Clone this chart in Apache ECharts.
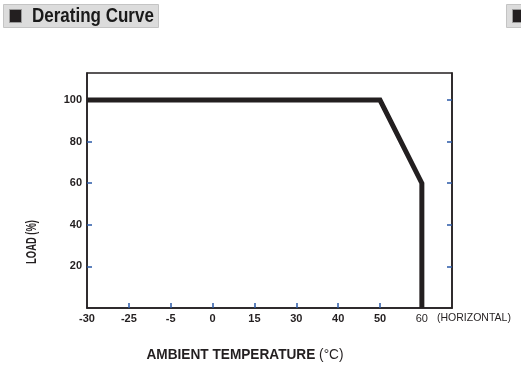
<!DOCTYPE html>
<html><head><meta charset="utf-8">
<script src="https://cdn.jsdelivr.net/npm/echarts@6/dist/echarts.min.js"></script>
<style>html,body{margin:0;padding:0;background:#fff}#c{width:521px;height:382px}</style>
</head><body><div id="c"></div>
<script>
const tickLabels = ['-30','-25','-5','0','15','30','40','50','60'];
const curveTemp = ['-30','50','60','60'];
const curveLoad = [100, 100, 60, 0];
const loadTicks = [20, 40, 60, 80, 100];

const chart = echarts.init(document.getElementById('c'));
const curveData = curveTemp.map((t, i) => [tickLabels.indexOf(t), curveLoad[i]]);
const tickBlue = '#2b5aa8';
const ink = '#231f20';
const NF = '"Liberation Sans", Arial';
chart.setOption({
  animation: false,
  grid: {left: 87, right: 69, top: 73, bottom: 74, show: true, borderColor: ink, borderWidth: 1.5},
  xAxis: [{
    type: 'value', min: 0, max: 8.72, interval: 1,
    axisLine: {show: true, lineStyle: {color: ink, width: 1.5}},
    axisTick: {show: true, inside: true, length: 5, lineStyle: {color: tickBlue, width: 1.5},
      customValues: tickLabels.map((_, i) => i).filter(i => i > 0)},
    splitLine: {show: false},
    axisLabel: {margin: 5, fontFamily: NF, fontSize: 11, fontWeight: 'bold', color: ink,
      showMaxLabel: false,
      formatter: v => {
        const i = Math.round(v);
        if (Math.abs(v - i) > 1e-6 || i >= tickLabels.length) return '';
        return i === tickLabels.length - 1 ? '{n|' + tickLabels[i] + '}' : tickLabels[i];
      },
      rich: {n: {fontFamily: NF, fontSize: 11, fontWeight: 'normal', color: ink}}
    }
  }],
  yAxis: [{
    type: 'value', min: 0, max: 113, interval: 20,
    axisLine: {show: true, lineStyle: {color: ink, width: 1.5}},
    axisTick: {show: true, inside: true, length: 5, lineStyle: {color: tickBlue, width: 1.5}, customValues: loadTicks},
    splitLine: {show: false},
    axisLabel: {margin: 5, fontFamily: NF, fontSize: 11, fontWeight: 'bold', color: ink,
      customValues: loadTicks, formatter: v => String(v)}
  }, {
    type: 'value', min: 0, max: 113, interval: 20, position: 'right',
    axisLine: {show: true, lineStyle: {color: ink, width: 1.5}},
    axisTick: {show: true, inside: true, length: 5, lineStyle: {color: tickBlue, width: 1.5}, customValues: loadTicks},
    splitLine: {show: false},
    axisLabel: {show: false}
  }],
  series: [{
    type: 'line', data: curveData, symbol: 'none',
    lineStyle: {color: ink, width: 5, join: 'miter'}
  }],
  graphic: [
    {type: 'rect', shape: {x: 3.5, y: 4.5, width: 155, height: 23}, style: {fill: '#dcdcdc', stroke: '#c4c4c4', lineWidth: 1}},
    {type: 'rect', shape: {x: 9.5, y: 9.5, width: 12, height: 13}, style: {fill: '#231f20', stroke: '#9a9a9a', lineWidth: 1}},
    {type: 'text', x: 32, y: 16, scaleX: 0.85,
      style: {text: 'Derating Curve', font: 'bold 20px ' + NF, fill: '#1a1a1a', align: 'left', verticalAlign: 'middle'}},
    {type: 'rect', shape: {x: 506.5, y: 4.5, width: 20, height: 23}, style: {fill: '#dcdcdc', stroke: '#c4c4c4', lineWidth: 1}},
    {type: 'rect', shape: {x: 512.5, y: 9.5, width: 12, height: 13}, style: {fill: '#231f20', stroke: '#9a9a9a', lineWidth: 1}},
    {type: 'text', x: 437, y: 318,
      style: {text: '(HORIZONTAL)', font: '10.5px ' + NF, fill: ink, align: 'left', verticalAlign: 'middle'}},
    {type: 'text', x: 32, y: 242, rotation: Math.PI / 2, scaleX: 0.67,
      style: {text: 'LOAD (%)', font: 'bold 14px ' + NF, fill: ink, align: 'center', verticalAlign: 'middle'}},
    {type: 'text', x: 245, y: 355, scaleX: 0.91,
      style: {text: '{b|AMBIENT TEMPERATURE }{n|(°C)}', align: 'center', verticalAlign: 'middle',
        rich: {b: {font: 'bold 15px ' + NF, fill: ink}, n: {font: '15px ' + NF, fill: ink}}}}
  ]
});
</script></body></html>
